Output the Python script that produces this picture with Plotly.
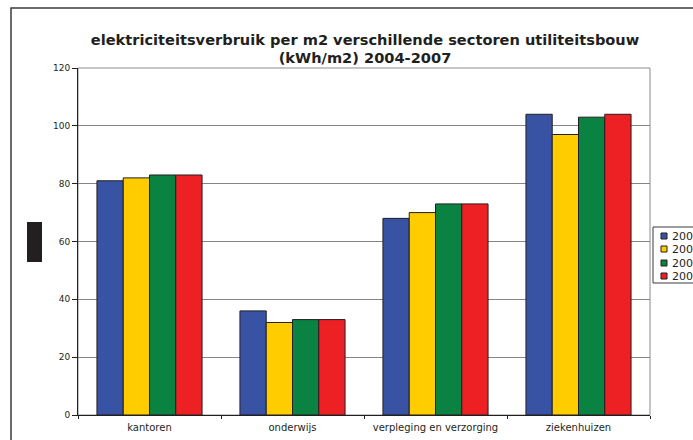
import plotly.graph_objects as go

# Sectors and yearly electricity use per m2 (kWh/m2)
categories = ["kantoren", "onderwijs", "verpleging en verzorging", "ziekenhuizen"]
years = ["2004", "2005", "2006", "2007"]
use_2004 = [81, 36, 68, 104]
use_2005 = [82, 32, 70, 97]
use_2006 = [83, 33, 73, 103]
use_2007 = [83, 33, 73, 104]
series = [use_2004, use_2005, use_2006, use_2007]
colors = ["#3953a4", "#ffcc00", "#0a8242", "#ed2024"]
y_ticks = [0, 20, 40, 60, 80, 100, 120]

W, H = 693, 440
L, R, T, B = 78, 43, 68, 25
PW, PH = W - L - R, H - T - B


def px_x(px):
    return (px - L) / PW


def px_y(py):
    return (H - B - py) / PH


fig = go.Figure()
for name, vals, col in zip(years, series, colors):
    fig.add_trace(go.Bar(
        x=categories, y=vals, name=name, showlegend=False,
        marker=dict(color=col, line=dict(color="#231f20", width=1)),
    ))

shapes = []
annotations = []

# outer chart frame
shapes.append(dict(type="rect", xref="paper", yref="paper",
                   x0=px_x(11), x1=px_x(720), y0=px_y(8), y1=px_y(470),
                   line=dict(color="#3a3a3a", width=1.5), fillcolor="rgba(0,0,0,0)", layer="below"))
# plot area border (top / right)
shapes.append(dict(type="rect", xref="paper", yref="paper", x0=0, x1=1, y0=0, y1=1,
                   line=dict(color="#8c8c8c", width=1), fillcolor="rgba(0,0,0,0)", layer="below"))
# dark block at the left edge
shapes.append(dict(type="rect", xref="paper", yref="paper",
                   x0=px_x(27), x1=px_x(42), y0=px_y(262), y1=px_y(222),
                   line=dict(width=0), fillcolor="#231f20"))

# legend box (runs past the right edge of the chart)
shapes.append(dict(type="rect", xref="paper", yref="paper",
                   x0=px_x(653), x1=px_x(720), y0=px_y(283), y1=px_y(227),
                   line=dict(color="#3a3a3a", width=1), fillcolor="white"))
row_y = [236, 249, 263, 276]
for name, col, ry in zip(years, colors, row_y):
    shapes.append(dict(type="rect", xref="paper", yref="paper",
                       x0=px_x(661), x1=px_x(667), y0=px_y(ry + 3), y1=px_y(ry - 3),
                       line=dict(color="#231f20", width=1), fillcolor=col))
    annotations.append(dict(text=name, xref="paper", yref="paper", x=px_x(670), y=px_y(ry),
                            xanchor="left", yanchor="middle", showarrow=False,
                            font=dict(family="DejaVu Sans", size=11, color="#231f20")))

fig.update_layout(
    width=W, height=H,
    margin=dict(l=L, r=R, t=T, b=B, autoexpand=False),
    paper_bgcolor="white", plot_bgcolor="white",
    barmode="group", bargap=0.265, bargroupgap=0,
    showlegend=False,
    title=dict(
        text="<b>elektriciteitsverbruik per m2 verschillende sectoren utiliteitsbouw<br>(kWh/m2) 2004-2007</b>",
        x=365 / W, xanchor="center", y=1 - 44.5 / H, yanchor="middle",
        font=dict(family="DejaVu Sans", size=14.6, color="#231f20"),
    ),
    xaxis=dict(
        showline=True, linecolor="#231f20", linewidth=1,
        ticks="outside", tickson="boundaries", ticklen=3, tickcolor="#231f20",
        ticklabelstandoff=3,
        tickfont=dict(family="DejaVu Sans", size=10, color="#231f20"),
        showgrid=False,
    ),
    yaxis=dict(
        range=[0, 120], tickvals=y_ticks,
        showline=True, linecolor="#231f20", linewidth=1,
        ticks="outside", ticklen=5, tickcolor="#231f20",
        tickfont=dict(family="DejaVu Sans", size=9, color="#231f20"),
        showgrid=True, gridcolor="#858585", gridwidth=1,
        zeroline=False,
    ),
    shapes=shapes, annotations=annotations,
)

fig.write_html("out.html")
